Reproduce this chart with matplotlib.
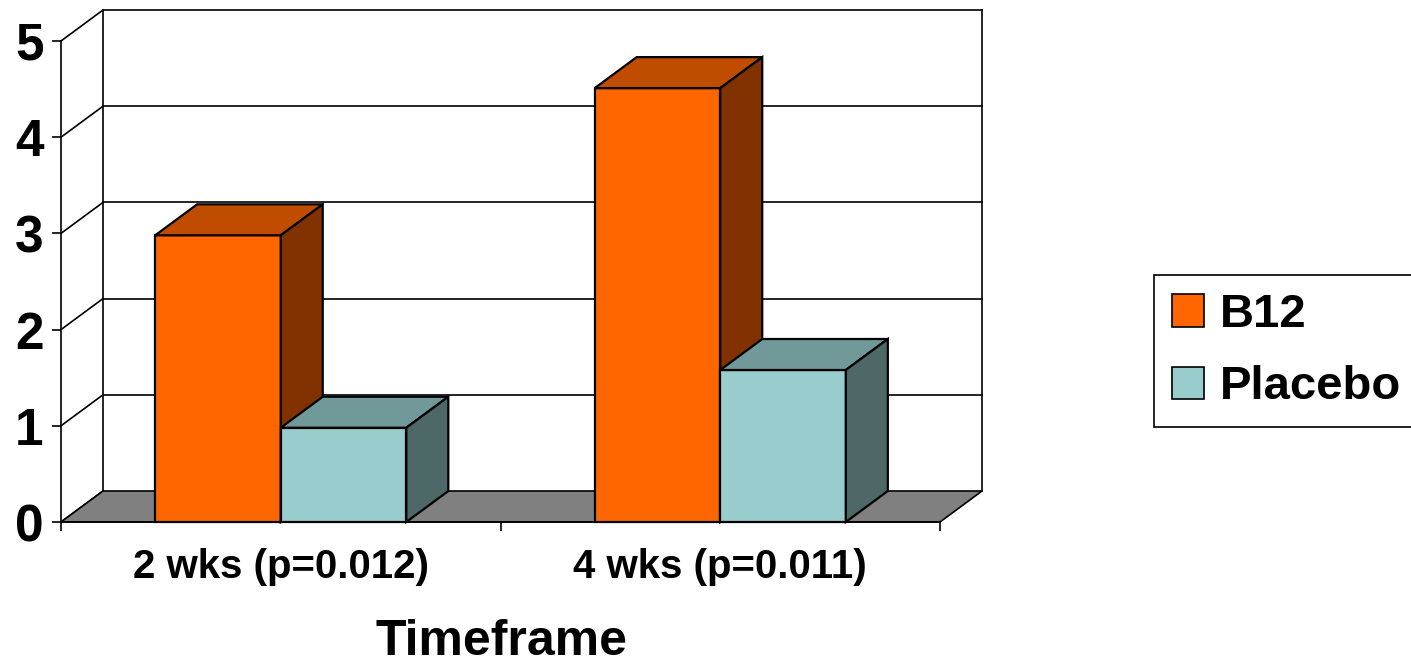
import matplotlib
matplotlib.use("Agg")
import matplotlib.pyplot as plt
from matplotlib.patches import Polygon, Patch

plt.rcParams['font.family'] = ['Liberation Sans', 'DejaVu Sans']
plt.rcParams['font.weight'] = 'bold'

# data
categories = ['2 wks (p=0.012)', '4 wks (p=0.011)']
series = ['B12', 'Placebo']
b12 = [2.98, 4.51]
placebo = [0.98, 1.58]
values = [b12, placebo]

# face colours: front, top, side
front_colors = ['#FF6600', '#99CCCC']
top_colors = ['#C04C00', '#729999']
side_colors = ['#823200', '#4E6767']

W, H = 1411, 664
PX_X = 439.5   # pixels per category
PX_Y = 96.2    # pixels per unit
DX = 42 / PX_X
DY = 31 / PX_Y
BW = 1 / 3.5
LW = 1.2
BAR_LW = 1.6

fig = plt.figure(figsize=(W / 100, H / 100), dpi=100)
ax = fig.add_axes([61 / W, (H - 522) / H, 921 / W, 512 / H])
ax.set_xlim(0, 921 / PX_X)
ax.set_ylim(0, 512 / PX_Y)
ax.patch.set_visible(False)

ymax = 5
ncat = len(categories)

# back wall and side wall lines
for y in range(ymax + 1):
    ax.plot([0, DX], [y, y + DY], color='black', lw=LW, clip_on=False, zorder=1)
    if y > 0:
        ax.plot([DX, ncat + DX], [y + DY, y + DY], color='black', lw=LW, clip_on=False, zorder=1)
ax.plot([DX, DX], [DY, ymax + DY], color='black', lw=LW, clip_on=False, zorder=1)
ax.plot([ncat + DX, ncat + DX], [DY, ymax + DY], color='black', lw=LW, clip_on=False, zorder=1)

# floor
ax.add_patch(Polygon([(0, 0), (ncat, 0), (ncat + DX, DY), (DX, DY)], closed=True,
                     facecolor='#808080', edgecolor='black', lw=LW, zorder=2, clip_on=False))

# bars, drawn left to right so later faces cover earlier sides
for i in range(ncat):
    for j in range(len(series)):
        v = values[j][i]
        x0 = i + 0.5 - BW + j * BW
        x1 = x0 + BW
        ax.bar(x0, v, width=BW, align='edge', color=front_colors[j], edgecolor='black',
               lw=BAR_LW, zorder=3, clip_on=False)
        ax.add_patch(Polygon([(x0, v), (x1, v), (x1 + DX, v + DY), (x0 + DX, v + DY)],
                             closed=True, facecolor=top_colors[j], edgecolor='black',
                             lw=BAR_LW, zorder=3, clip_on=False))
        ax.add_patch(Polygon([(x1, 0), (x1 + DX, DY), (x1 + DX, v + DY), (x1, v)],
                             closed=True, facecolor=side_colors[j], edgecolor='black',
                             lw=BAR_LW, zorder=3, clip_on=False))

# axes
for s in ['top', 'right']:
    ax.spines[s].set_visible(False)
ax.spines['left'].set_bounds(0, ymax)
ax.spines['bottom'].set_bounds(0, ncat)
ax.spines['left'].set_linewidth(LW)
ax.spines['bottom'].set_linewidth(LW)

ax.set_yticks(range(ymax + 1))
ax.tick_params(axis='y', direction='out', length=6.5, width=LW, pad=6, labelsize=37)
ax.set_xticks(range(ncat + 1), labels=[''] * (ncat + 1))
ax.tick_params(axis='x', which='major', direction='out', length=6.5, width=LW)
ax.set_xticks([i + 0.5 for i in range(ncat)], labels=categories, minor=True)
ax.tick_params(axis='x', which='minor', length=0, pad=19, labelsize=29)

ax.set_xlabel('Timeframe', fontsize=36, fontweight='bold')
ax.xaxis.set_label_coords((501 - 61) / 921, -0.19)

handles = [Patch(facecolor=front_colors[j], edgecolor='black', lw=LW) for j in range(len(series))]
leg = fig.legend(handles, series, loc='upper left', bbox_to_anchor=(1154 / W, 1 - 275 / H),
                 prop={'size': 34, 'weight': 'bold'}, frameon=True, fancybox=False,
                 edgecolor='black', framealpha=1, borderaxespad=0, borderpad=0.38,
                 handlelength=0.68, handleheight=0.68, handletextpad=0.34, labelspacing=0.6)
leg.get_frame().set_linewidth(LW)

fig.savefig('out.png', dpi=100)
